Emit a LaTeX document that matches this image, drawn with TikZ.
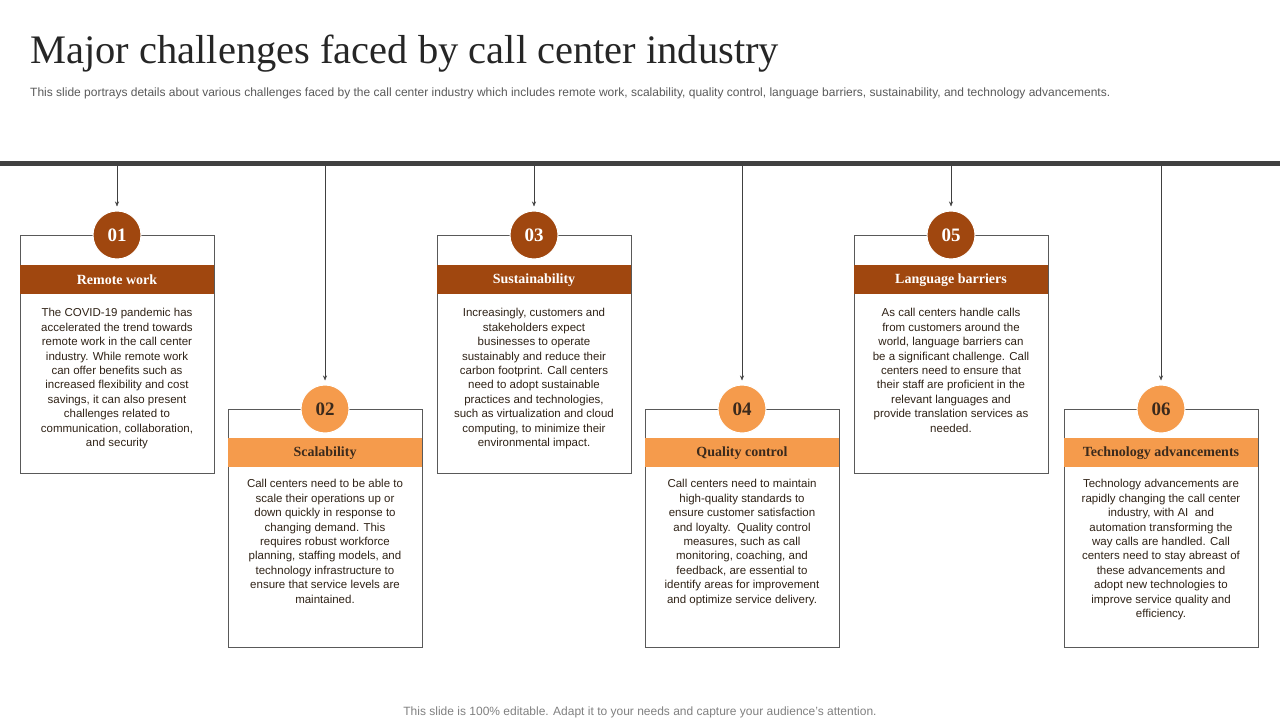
\documentclass[tikz,border=0pt]{standalone}
\usepackage{fontspec}
\setmainfont{Liberation Serif}
\setsansfont{Liberation Sans}
\usepackage{tikz}
\definecolor{RustDark}{HTML}{A0470F}
\definecolor{RustLight}{HTML}{F59B4C}
\definecolor{BarGray}{HTML}{404040}
\definecolor{TextGray}{HTML}{595959}
\definecolor{HeadDark}{HTML}{3B2A1C}
\usetikzlibrary{positioning}
\usetikzlibrary{arrows.meta}

\begin{document}
\begin{tikzpicture}[x=1pt,y=-1pt,
    cardbox/.style={draw=gray!70!black,line width=0.6pt,minimum width=194pt,
      minimum height=238pt,anchor=north,inner sep=0pt},
    headband/.style={minimum width=194pt,minimum height=29pt,anchor=north,
      inner sep=0pt,font=\fontsize{14}{16}\selectfont\bfseries},
    numdisc/.style={shape=circle,minimum size=48pt,inner sep=0pt,draw=white,
      line width=1pt,font=\fontsize{19}{20}\selectfont\bfseries},
    bodytext/.style={anchor=north,align=center,
      font=\sffamily\fontsize{11.5}{14.4}\selectfont,text=HeadDark!80!black,inner sep=0pt},
    drop/.style={-{Stealth[length=5pt,width=4pt]},line width=0.5pt,draw=BarGray}]
  \path[use as bounding box] (0,0) rectangle (1280,720);

  % title and notes
  \node[name=title,anchor=base west,inner sep=0pt,
    font=\fontsize{40.5}{44}\selectfont,text=black!85] at (30,63)
    {Major challenges faced by call center industry};
  \node[name=subtitle,anchor=base west,inner sep=0pt,
    font=\sffamily\fontsize{12}{13}\selectfont,text=TextGray] at (30,96)
    {This slide portrays details about various challenges faced by the call center industry which includes remote work, scalability, quality control, language barriers, sustainability, and technology advancements.};
  \node[name=footer,inner sep=0pt,font=\sffamily\fontsize{12}{13}\selectfont,
    text=gray] at (640,712)
    {This slide is 100\% editable. Adapt it to your needs and capture your audience's attention.};

  % timeline bar
  \fill[BarGray] (0,161) rectangle (1280,166);
  \coordinate (bar) at (0,166);

  % cards: upper row
  \node[name=card1,cardbox] at (117,235) {};
  \node[name=head1,headband,fill=RustDark,text=white] at (117,265) {Remote work};
  \node[name=disc1,numdisc,fill=RustDark,text=white] at (117,235) {01};
  \node[name=body1,bodytext,below=14pt of head1.south] {The COVID-19 pandemic has\\accelerated the trend towards\\remote work in the call center\\industry. While remote work\\can offer benefits such as\\increased flexibility and cost\\savings, it can also present\\challenges related to\\communication, collaboration,\\and security};

  \node[name=card3,cardbox] at (534,235) {};
  \node[name=head3,headband,fill=RustDark,text=white] at (534,265) {Sustainability};
  \node[name=disc3,numdisc,fill=RustDark,text=white] at (534,235) {03};
  \node[name=body3,bodytext,below=14pt of head3.south] {Increasingly, customers and\\stakeholders expect\\businesses to operate\\sustainably and reduce their\\carbon footprint. Call centers\\need to adopt sustainable\\practices and technologies,\\such as virtualization and cloud\\computing, to minimize their\\environmental impact.};

  \node[name=card5,cardbox] at (951,235) {};
  \node[name=head5,headband,fill=RustDark,text=white] at (951,265) {Language barriers};
  \node[name=disc5,numdisc,fill=RustDark,text=white] at (951,235) {05};
  \node[name=body5,bodytext,below=14pt of head5.south] {As call centers handle calls\\from customers around the\\world, language barriers can\\be a significant challenge. Call\\centers need to ensure that\\their staff are proficient in the\\relevant languages and\\provide translation services as\\needed.};

  % cards: lower row
  \node[name=card2,cardbox] at (325,409) {};
  \node[name=head2,headband,fill=RustLight,text=HeadDark] at (325,438) {Scalability};
  \node[name=disc2,numdisc,fill=RustLight,text=HeadDark] at (325,409) {02};
  \node[name=body2,bodytext,below=12pt of head2.south] {Call centers need to be able to\\scale their operations up or\\down quickly in response to\\changing demand. This\\requires robust workforce\\planning, staffing models, and\\technology infrastructure to\\ensure that service levels are\\maintained.};

  \node[name=card4,cardbox] at (742,409) {};
  \node[name=head4,headband,fill=RustLight,text=HeadDark] at (742,438) {Quality control};
  \node[name=disc4,numdisc,fill=RustLight,text=HeadDark] at (742,409) {04};
  \node[name=body4,bodytext,below=12pt of head4.south] {Call centers need to maintain\\high-quality standards to\\ensure customer satisfaction\\and loyalty.\ \ Quality control\\measures, such as call\\monitoring, coaching, and\\feedback, are essential to\\identify areas for improvement\\and optimize service delivery.};

  \node[name=card6,cardbox] at (1161,409) {};
  \node[name=head6,headband,fill=RustLight,text=HeadDark] at (1161,438) {Technology advancements};
  \node[name=disc6,numdisc,fill=RustLight,text=HeadDark] at (1161,409) {06};
  \node[name=body6,bodytext,below=12pt of head6.south] {Technology advancements are\\rapidly changing the call center\\industry, with AI\ \ and\\automation transforming the\\way calls are handled. Call\\centers need to stay abreast of\\these advancements and\\adopt new technologies to\\improve service quality and\\efficiency.};

  % drops from the bar
  \foreach \n in {1,...,6}
    \draw[drop] (bar -| disc\n) -- ([yshift=4pt]disc\n.north);
\end{tikzpicture}
\end{document}
